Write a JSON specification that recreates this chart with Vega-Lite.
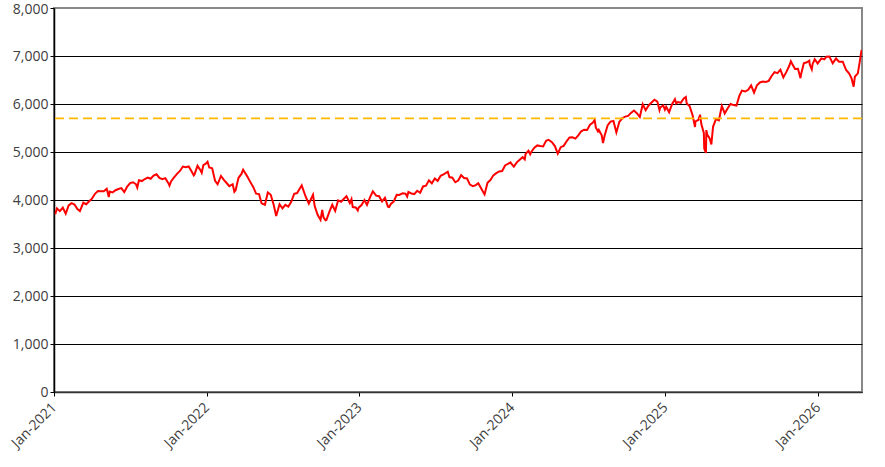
{
"$schema": "https://vega.github.io/schema/vega-lite/v6.json",
"width": 808,
"height": 384,
"autosize": "none",
"padding": {"left": 54, "top": 8, "right": 23, "bottom": 75},
"layer": [
  {
    "data": {"values": [
      {"date": "2021-01-04", "close": 3701}, {"date": "2021-01-08", "close": 3825}, {"date": "2021-01-15", "close": 3768},
      {"date": "2021-01-22", "close": 3841}, {"date": "2021-01-29", "close": 3714}, {"date": "2021-02-05", "close": 3887},
      {"date": "2021-02-12", "close": 3934}, {"date": "2021-02-19", "close": 3907}, {"date": "2021-02-26", "close": 3811},
      {"date": "2021-03-04", "close": 3768}, {"date": "2021-03-12", "close": 3943}, {"date": "2021-03-19", "close": 3913},
      {"date": "2021-03-26", "close": 3975}, {"date": "2021-04-01", "close": 4020}, {"date": "2021-04-09", "close": 4129},
      {"date": "2021-04-16", "close": 4185}, {"date": "2021-04-23", "close": 4180}, {"date": "2021-04-30", "close": 4181},
      {"date": "2021-05-07", "close": 4233}, {"date": "2021-05-12", "close": 4063}, {"date": "2021-05-14", "close": 4174},
      {"date": "2021-05-21", "close": 4156}, {"date": "2021-05-28", "close": 4204}, {"date": "2021-06-04", "close": 4230},
      {"date": "2021-06-11", "close": 4247}, {"date": "2021-06-18", "close": 4166}, {"date": "2021-06-25", "close": 4281},
      {"date": "2021-07-02", "close": 4352}, {"date": "2021-07-09", "close": 4370}, {"date": "2021-07-16", "close": 4327},
      {"date": "2021-07-19", "close": 4259}, {"date": "2021-07-23", "close": 4412}, {"date": "2021-07-30", "close": 4395},
      {"date": "2021-08-06", "close": 4437}, {"date": "2021-08-13", "close": 4468}, {"date": "2021-08-20", "close": 4442},
      {"date": "2021-08-27", "close": 4509}, {"date": "2021-09-03", "close": 4535}, {"date": "2021-09-10", "close": 4459},
      {"date": "2021-09-17", "close": 4433}, {"date": "2021-09-24", "close": 4455}, {"date": "2021-10-01", "close": 4357},
      {"date": "2021-10-04", "close": 4300}, {"date": "2021-10-08", "close": 4391}, {"date": "2021-10-15", "close": 4471},
      {"date": "2021-10-22", "close": 4545}, {"date": "2021-10-29", "close": 4605}, {"date": "2021-11-05", "close": 4697},
      {"date": "2021-11-12", "close": 4682}, {"date": "2021-11-19", "close": 4698}, {"date": "2021-11-26", "close": 4595},
      {"date": "2021-12-01", "close": 4513}, {"date": "2021-12-03", "close": 4538}, {"date": "2021-12-10", "close": 4712},
      {"date": "2021-12-17", "close": 4620}, {"date": "2021-12-20", "close": 4568}, {"date": "2021-12-24", "close": 4726},
      {"date": "2021-12-31", "close": 4766},
      {"date": "2022-01-03", "close": 4797}, {"date": "2022-01-07", "close": 4677}, {"date": "2022-01-14", "close": 4662},
      {"date": "2022-01-21", "close": 4398}, {"date": "2022-01-27", "close": 4327}, {"date": "2022-02-04", "close": 4500},
      {"date": "2022-02-11", "close": 4419}, {"date": "2022-02-18", "close": 4349}, {"date": "2022-02-24", "close": 4289},
      {"date": "2022-03-04", "close": 4329}, {"date": "2022-03-08", "close": 4171}, {"date": "2022-03-11", "close": 4204},
      {"date": "2022-03-18", "close": 4463}, {"date": "2022-03-25", "close": 4543}, {"date": "2022-03-29", "close": 4632},
      {"date": "2022-04-08", "close": 4488}, {"date": "2022-04-14", "close": 4393}, {"date": "2022-04-22", "close": 4272},
      {"date": "2022-04-29", "close": 4132}, {"date": "2022-05-06", "close": 4123}, {"date": "2022-05-12", "close": 3930},
      {"date": "2022-05-20", "close": 3901}, {"date": "2022-05-27", "close": 4158}, {"date": "2022-06-03", "close": 4109},
      {"date": "2022-06-10", "close": 3901}, {"date": "2022-06-16", "close": 3667}, {"date": "2022-06-24", "close": 3912},
      {"date": "2022-07-01", "close": 3825}, {"date": "2022-07-08", "close": 3899}, {"date": "2022-07-15", "close": 3863},
      {"date": "2022-07-22", "close": 3962}, {"date": "2022-07-29", "close": 4130}, {"date": "2022-08-05", "close": 4145},
      {"date": "2022-08-16", "close": 4305}, {"date": "2022-08-19", "close": 4228}, {"date": "2022-08-26", "close": 4058},
      {"date": "2022-09-02", "close": 3924}, {"date": "2022-09-12", "close": 4110}, {"date": "2022-09-16", "close": 3873},
      {"date": "2022-09-23", "close": 3693}, {"date": "2022-09-30", "close": 3586}, {"date": "2022-10-04", "close": 3791},
      {"date": "2022-10-07", "close": 3640}, {"date": "2022-10-12", "close": 3577}, {"date": "2022-10-14", "close": 3583},
      {"date": "2022-10-21", "close": 3752}, {"date": "2022-10-28", "close": 3901}, {"date": "2022-11-04", "close": 3771},
      {"date": "2022-11-11", "close": 3993}, {"date": "2022-11-18", "close": 3965}, {"date": "2022-11-25", "close": 4026},
      {"date": "2022-12-01", "close": 4077}, {"date": "2022-12-09", "close": 3934}, {"date": "2022-12-13", "close": 4019},
      {"date": "2022-12-16", "close": 3852}, {"date": "2022-12-23", "close": 3845}, {"date": "2022-12-28", "close": 3783},
      {"date": "2022-12-30", "close": 3840},
      {"date": "2023-01-06", "close": 3895}, {"date": "2023-01-13", "close": 3999}, {"date": "2023-01-19", "close": 3899},
      {"date": "2023-01-27", "close": 4071}, {"date": "2023-02-02", "close": 4180}, {"date": "2023-02-10", "close": 4090},
      {"date": "2023-02-17", "close": 4079}, {"date": "2023-02-24", "close": 3970}, {"date": "2023-03-03", "close": 4046},
      {"date": "2023-03-10", "close": 3862}, {"date": "2023-03-13", "close": 3855}, {"date": "2023-03-17", "close": 3917},
      {"date": "2023-03-24", "close": 3971}, {"date": "2023-03-31", "close": 4109}, {"date": "2023-04-06", "close": 4105},
      {"date": "2023-04-14", "close": 4138}, {"date": "2023-04-21", "close": 4133}, {"date": "2023-04-25", "close": 4071},
      {"date": "2023-04-28", "close": 4169}, {"date": "2023-05-05", "close": 4136}, {"date": "2023-05-12", "close": 4124},
      {"date": "2023-05-19", "close": 4192}, {"date": "2023-05-26", "close": 4151}, {"date": "2023-06-02", "close": 4282},
      {"date": "2023-06-09", "close": 4299}, {"date": "2023-06-16", "close": 4410}, {"date": "2023-06-23", "close": 4348},
      {"date": "2023-06-30", "close": 4450}, {"date": "2023-07-07", "close": 4399}, {"date": "2023-07-14", "close": 4505},
      {"date": "2023-07-21", "close": 4536}, {"date": "2023-07-31", "close": 4589}, {"date": "2023-08-04", "close": 4478},
      {"date": "2023-08-11", "close": 4464}, {"date": "2023-08-18", "close": 4370}, {"date": "2023-08-25", "close": 4406},
      {"date": "2023-09-01", "close": 4516}, {"date": "2023-09-08", "close": 4457}, {"date": "2023-09-15", "close": 4450},
      {"date": "2023-09-22", "close": 4320}, {"date": "2023-09-29", "close": 4288}, {"date": "2023-10-06", "close": 4309},
      {"date": "2023-10-12", "close": 4349}, {"date": "2023-10-20", "close": 4224}, {"date": "2023-10-27", "close": 4117},
      {"date": "2023-11-03", "close": 4358}, {"date": "2023-11-10", "close": 4415}, {"date": "2023-11-17", "close": 4514},
      {"date": "2023-11-24", "close": 4559}, {"date": "2023-12-01", "close": 4595}, {"date": "2023-12-08", "close": 4604},
      {"date": "2023-12-15", "close": 4719}, {"date": "2023-12-22", "close": 4755}, {"date": "2023-12-28", "close": 4783},
      {"date": "2023-12-29", "close": 4770},
      {"date": "2024-01-05", "close": 4697}, {"date": "2024-01-12", "close": 4784}, {"date": "2024-01-19", "close": 4840},
      {"date": "2024-01-26", "close": 4891}, {"date": "2024-01-31", "close": 4846}, {"date": "2024-02-02", "close": 4959},
      {"date": "2024-02-09", "close": 5027}, {"date": "2024-02-13", "close": 4953}, {"date": "2024-02-16", "close": 5006},
      {"date": "2024-02-23", "close": 5089}, {"date": "2024-03-01", "close": 5137}, {"date": "2024-03-08", "close": 5124},
      {"date": "2024-03-15", "close": 5117}, {"date": "2024-03-22", "close": 5234}, {"date": "2024-03-28", "close": 5254},
      {"date": "2024-04-05", "close": 5204}, {"date": "2024-04-12", "close": 5123}, {"date": "2024-04-19", "close": 4967},
      {"date": "2024-04-26", "close": 5100}, {"date": "2024-05-03", "close": 5128}, {"date": "2024-05-10", "close": 5223},
      {"date": "2024-05-17", "close": 5303}, {"date": "2024-05-24", "close": 5305}, {"date": "2024-05-31", "close": 5278},
      {"date": "2024-06-07", "close": 5347}, {"date": "2024-06-14", "close": 5432}, {"date": "2024-06-21", "close": 5465},
      {"date": "2024-06-28", "close": 5460}, {"date": "2024-07-05", "close": 5567}, {"date": "2024-07-12", "close": 5615},
      {"date": "2024-07-16", "close": 5667}, {"date": "2024-07-19", "close": 5505}, {"date": "2024-07-24", "close": 5427},
      {"date": "2024-07-26", "close": 5459}, {"date": "2024-08-02", "close": 5346}, {"date": "2024-08-05", "close": 5186},
      {"date": "2024-08-09", "close": 5344}, {"date": "2024-08-16", "close": 5554}, {"date": "2024-08-23", "close": 5634},
      {"date": "2024-08-30", "close": 5648}, {"date": "2024-09-06", "close": 5408}, {"date": "2024-09-13", "close": 5626},
      {"date": "2024-09-20", "close": 5703}, {"date": "2024-09-27", "close": 5738}, {"date": "2024-10-04", "close": 5751},
      {"date": "2024-10-11", "close": 5815}, {"date": "2024-10-18", "close": 5865}, {"date": "2024-10-25", "close": 5808},
      {"date": "2024-11-01", "close": 5729}, {"date": "2024-11-08", "close": 5995}, {"date": "2024-11-15", "close": 5870},
      {"date": "2024-11-22", "close": 5969}, {"date": "2024-11-29", "close": 6032}, {"date": "2024-12-06", "close": 6090},
      {"date": "2024-12-13", "close": 6051}, {"date": "2024-12-18", "close": 5872}, {"date": "2024-12-20", "close": 5931},
      {"date": "2024-12-27", "close": 5970}, {"date": "2024-12-31", "close": 5882},
      {"date": "2025-01-03", "close": 5942}, {"date": "2025-01-10", "close": 5827}, {"date": "2025-01-17", "close": 5997},
      {"date": "2025-01-24", "close": 6101}, {"date": "2025-01-27", "close": 6012}, {"date": "2025-01-31", "close": 6040},
      {"date": "2025-02-07", "close": 6026}, {"date": "2025-02-14", "close": 6115}, {"date": "2025-02-19", "close": 6144},
      {"date": "2025-02-21", "close": 6013}, {"date": "2025-02-28", "close": 5955}, {"date": "2025-03-07", "close": 5770},
      {"date": "2025-03-13", "close": 5522}, {"date": "2025-03-14", "close": 5639}, {"date": "2025-03-21", "close": 5668},
      {"date": "2025-03-25", "close": 5777}, {"date": "2025-03-28", "close": 5581}, {"date": "2025-04-03", "close": 5396},
      {"date": "2025-04-04", "close": 5074}, {"date": "2025-04-08", "close": 4982}, {"date": "2025-04-09", "close": 5457},
      {"date": "2025-04-11", "close": 5363}, {"date": "2025-04-17", "close": 5283}, {"date": "2025-04-21", "close": 5158},
      {"date": "2025-04-25", "close": 5525}, {"date": "2025-05-02", "close": 5686}, {"date": "2025-05-09", "close": 5660},
      {"date": "2025-05-16", "close": 5958}, {"date": "2025-05-23", "close": 5803}, {"date": "2025-05-30", "close": 5912},
      {"date": "2025-06-06", "close": 6000}, {"date": "2025-06-13", "close": 5977}, {"date": "2025-06-20", "close": 5967},
      {"date": "2025-06-27", "close": 6173}, {"date": "2025-07-03", "close": 6279}, {"date": "2025-07-11", "close": 6260},
      {"date": "2025-07-18", "close": 6297}, {"date": "2025-07-25", "close": 6389}, {"date": "2025-08-01", "close": 6238},
      {"date": "2025-08-08", "close": 6389}, {"date": "2025-08-15", "close": 6449}, {"date": "2025-08-22", "close": 6467},
      {"date": "2025-08-29", "close": 6460}, {"date": "2025-09-05", "close": 6482}, {"date": "2025-09-12", "close": 6584},
      {"date": "2025-09-19", "close": 6664}, {"date": "2025-09-26", "close": 6644}, {"date": "2025-10-03", "close": 6716},
      {"date": "2025-10-10", "close": 6553}, {"date": "2025-10-17", "close": 6664}, {"date": "2025-10-24", "close": 6791},
      {"date": "2025-10-28", "close": 6891}, {"date": "2025-10-31", "close": 6840}, {"date": "2025-11-07", "close": 6729},
      {"date": "2025-11-14", "close": 6734}, {"date": "2025-11-20", "close": 6538}, {"date": "2025-11-21", "close": 6603},
      {"date": "2025-11-28", "close": 6849}, {"date": "2025-12-05", "close": 6870}, {"date": "2025-12-11", "close": 6901},
      {"date": "2025-12-12", "close": 6827}, {"date": "2025-12-17", "close": 6721}, {"date": "2025-12-19", "close": 6834},
      {"date": "2025-12-24", "close": 6932}, {"date": "2025-12-31", "close": 6845},
      {"date": "2026-01-09", "close": 6951}, {"date": "2026-01-16", "close": 6930}, {"date": "2026-01-21", "close": 6986},
      {"date": "2026-01-28", "close": 6990}, {"date": "2026-02-05", "close": 6847}, {"date": "2026-02-13", "close": 6951},
      {"date": "2026-02-20", "close": 6882}, {"date": "2026-03-01", "close": 6882}, {"date": "2026-03-09", "close": 6708},
      {"date": "2026-03-16", "close": 6639}, {"date": "2026-03-22", "close": 6535}, {"date": "2026-03-27", "close": 6361},
      {"date": "2026-03-30", "close": 6569}, {"date": "2026-04-06", "close": 6639}, {"date": "2026-04-10", "close": 6847},
      {"date": "2026-04-15", "close": 7125}
    ]},
    "mark": {"type": "line", "color": "#ff0000", "strokeWidth": 2, "clip": true},
    "encoding": {
      "x": {
        "field": "date",
        "type": "temporal",
        "title": null,
        "scale": {"domain": ["2021-01-01", "2026-04-16"]},
        "axis": {
          "format": "%b-%Y",
          "tickCount": {"interval": "year", "step": 1},
          "labelAngle": -45,
          "labelAlign": "right",
          "labelBaseline": "middle",
          "labelPadding": 9,
          "tickSize": 4,
          "tickColor": "#000000",
          "domainColor": "#333333",
          "domainWidth": 1.5,
          "grid": false
        }
      },
      "y": {
        "field": "close",
        "type": "quantitative",
        "title": null,
        "scale": {"domain": [0, 8000], "nice": false},
        "axis": {
          "values": [0, 1000, 2000, 3000, 4000, 5000, 6000, 7000, 8000],
          "format": ",.0f",
          "tickSize": 4,
          "labelPadding": 2,
          "labelOffset": {"condition": {"test": "datum.value == 8000", "value": 1.5}, "value": 0},
          "tickColor": "#000000",
          "domainColor": "#000000",
          "domainWidth": 1.5,
          "grid": true,
          "gridColor": {"condition": {"test": "datum.value == 8000", "value": "#888888"}, "value": "#000000"},
          "gridWidth": 1,
          "gridOpacity": 1
        }
      }
    }
  },
  {
    "data": {"values": [{"level": 5700}]},
    "mark": {"type": "rule", "color": "#ffb800", "strokeWidth": 1.7, "strokeDash": [9, 5]},
    "encoding": {"y": {"field": "level", "type": "quantitative"}}
  }
],
"config": {
  "font": "Open Sans",
  "view": {"stroke": "#888888", "strokeWidth": 2},
  "axis": {"labelFont": "Open Sans", "labelFontSize": 14, "labelColor": "#404040", "labelFlush": false, "labelOverlap": false}
}
}
